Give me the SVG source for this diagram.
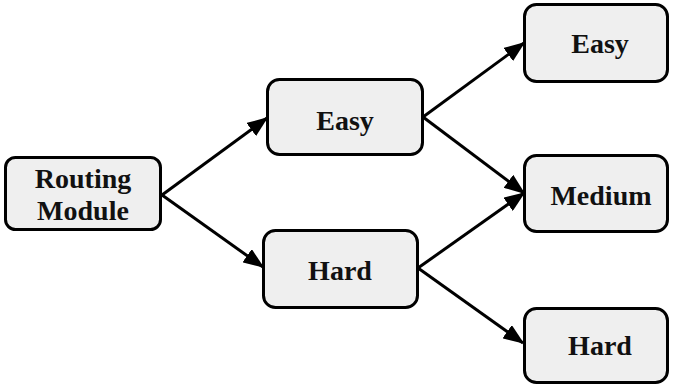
<svg xmlns="http://www.w3.org/2000/svg" width="673" height="385" viewBox="0 0 673 385">
<style>
.box{fill:#efefef;stroke:#000;stroke-width:3}
.lbl{font-family:"Liberation Serif","Times New Roman",serif;font-weight:bold;font-size:28px;fill:#111;text-anchor:middle}
.edge{stroke:#000;stroke-width:3;fill:none;marker-end:url(#ah)}
</style>
<defs>
<marker id="ah" markerWidth="7" markerHeight="5.4" refX="6.5" refY="2.7" orient="auto" markerUnits="strokeWidth">
<path d="M0,0 L7,2.7 L0,5.4 z" fill="#000"/>
</marker>
</defs>
<rect width="673" height="385" fill="#fff"/>
<g id="connectors">
<line class="edge" x1="162" y1="195" x2="267" y2="118"/>
<line class="edge" x1="162" y1="195" x2="263" y2="267"/>
<line class="edge" x1="423" y1="117" x2="524" y2="43"/>
<line class="edge" x1="423" y1="117" x2="524" y2="193"/>
<line class="edge" x1="418" y1="268" x2="524" y2="193"/>
<line class="edge" x1="418" y1="268" x2="523" y2="343"/>
</g>
<g id="routing">
<rect class="box" x="5.5" y="157.5" width="155" height="72" rx="10"/>
<text class="lbl" x="83" y="188">Routing</text>
<text class="lbl" x="83" y="220">Module</text>
</g>
<g id="easy1">
<rect class="box" x="267.5" y="79.5" width="155" height="75" rx="12"/>
<text class="lbl" x="345" y="130">Easy</text>
</g>
<g id="hard1">
<rect class="box" x="263.5" y="230.5" width="154" height="77" rx="12"/>
<text class="lbl" x="340" y="280">Hard</text>
</g>
<g id="easy2">
<rect class="box" x="524.5" y="4.5" width="143" height="77" rx="12"/>
<text class="lbl" x="600" y="53">Easy</text>
</g>
<g id="medium">
<rect class="box" x="524.5" y="155.5" width="143" height="76" rx="12"/>
<text class="lbl" x="601" y="205">Medium</text>
</g>
<g id="hard2">
<rect class="box" x="524.5" y="308.5" width="143" height="74" rx="12"/>
<text class="lbl" x="600" y="355">Hard</text>
</g>
</svg>
